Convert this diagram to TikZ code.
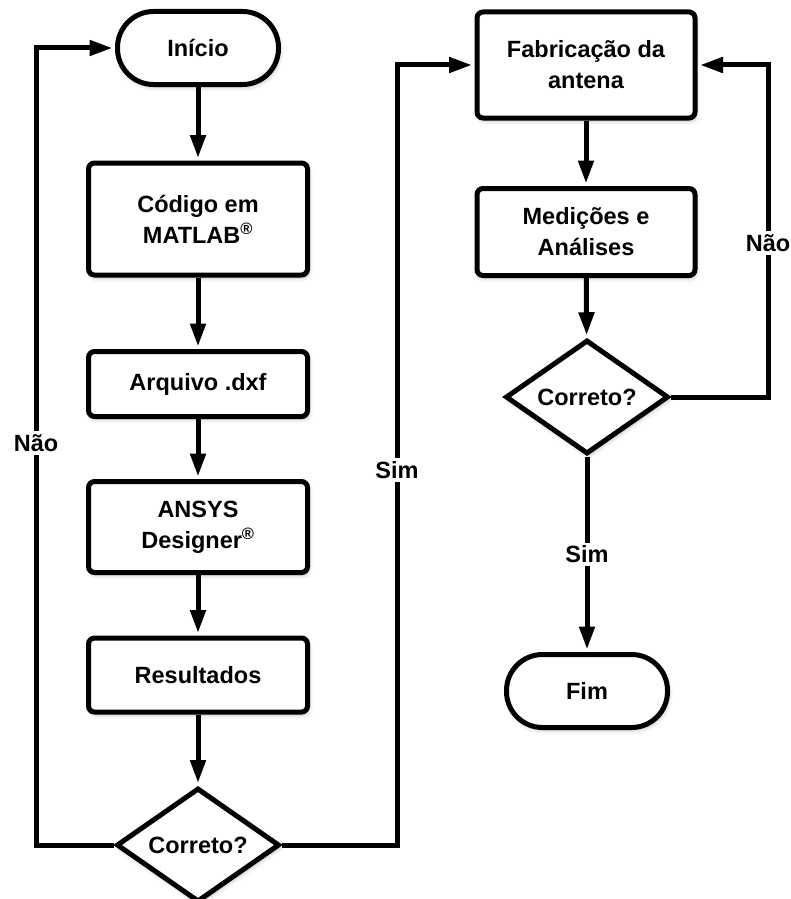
\documentclass[tikz,border=0pt]{standalone}
\usepackage{fontspec}
\setmainfont{Liberation Sans}
\usetikzlibrary{arrows.meta,shapes.geometric,shadows.blur}
\begin{document}
\begin{tikzpicture}[x=1pt,y=-1pt,
  every node/.style={font=\fontsize{23.5}{31}\selectfont\bfseries, align=center},
  box/.style={draw, line width=5pt, rounded corners=6pt, fill=white, minimum width=219pt,
    blur shadow={shadow xshift=1.5pt, shadow yshift=-3pt, shadow blur radius=4pt, shadow opacity=25}},
  term/.style={draw, line width=5pt, rounded corners=36pt, fill=white, minimum width=161pt, minimum height=73pt,
    blur shadow={shadow xshift=1.5pt, shadow yshift=-3pt, shadow blur radius=4pt, shadow opacity=25}},
  dec/.style={draw, diamond, line width=5pt, fill=white, inner sep=0pt, aspect=1.43,
    minimum width=163pt, minimum height=114pt, line join=miter,
    blur shadow={shadow xshift=1.5pt, shadow yshift=-3pt, shadow blur radius=4pt, shadow opacity=25}},
  arr/.style={line width=5pt, -{Triangle[length=23pt,width=15pt]}, shorten >=2.5pt},
  lbl/.style={fill=white, inner sep=3pt}
]
\useasboundingbox (0,0) rectangle (790,899);
\node[term] (inicio) at (198,48) {Início};
\node[box, minimum height=112pt] (codigo) at (198,219) {Código em\\MATLAB\textsuperscript{®}};
\node[box, minimum height=65pt] (arquivo) at (198,384) {Arquivo .dxf};
\node[box, minimum height=91pt] (ansys) at (198,527) {ANSYS\\Designer\textsuperscript{®}};
\node[box, minimum height=74pt] (result) at (198,675) {Resultados};
\node[dec] (d1) at (198,845) {Correto?};

\node[box, minimum width=218pt, minimum height=106pt] (fab) at (586,65) {Fabricação da\\antena};
\node[box, minimum width=218pt, minimum height=87pt] (med) at (586,232) {Medições e\\Análises};
\node[dec] (d2) at (587,397) {Correto?};
\node[term] (fim) at (587,691) {Fim};

\coordinate (L) at (36,845);
\coordinate (R) at (397,845);
\coordinate (R2) at (768,397);

\draw[arr] (inicio) -- (codigo);
\draw[arr] (codigo) -- (arquivo);
\draw[arr] (arquivo) -- (ansys);
\draw[arr] (ansys) -- (result);
\draw[arr] (result) -- (d1);
\draw[arr] (fab) -- (med);
\draw[arr] (med) -- (d2);
\draw[arr] (d2) -- node[lbl] {Sim} (fim);

\draw[arr, line join=miter] (d1.west) -- (L) |- (inicio.west);
\draw[arr, line join=miter] (d1.east) -- (R) |- (fab.west);
\draw[arr, line join=miter] (d2.east) -- (R2) |- (fab.east);

\node[lbl] (nao1) at (36,443) {Não};
\node[lbl] (sim1) at (397,470) {Sim};
\node[lbl] (nao2) at (768,243) {Não};
\end{tikzpicture}
\end{document}
